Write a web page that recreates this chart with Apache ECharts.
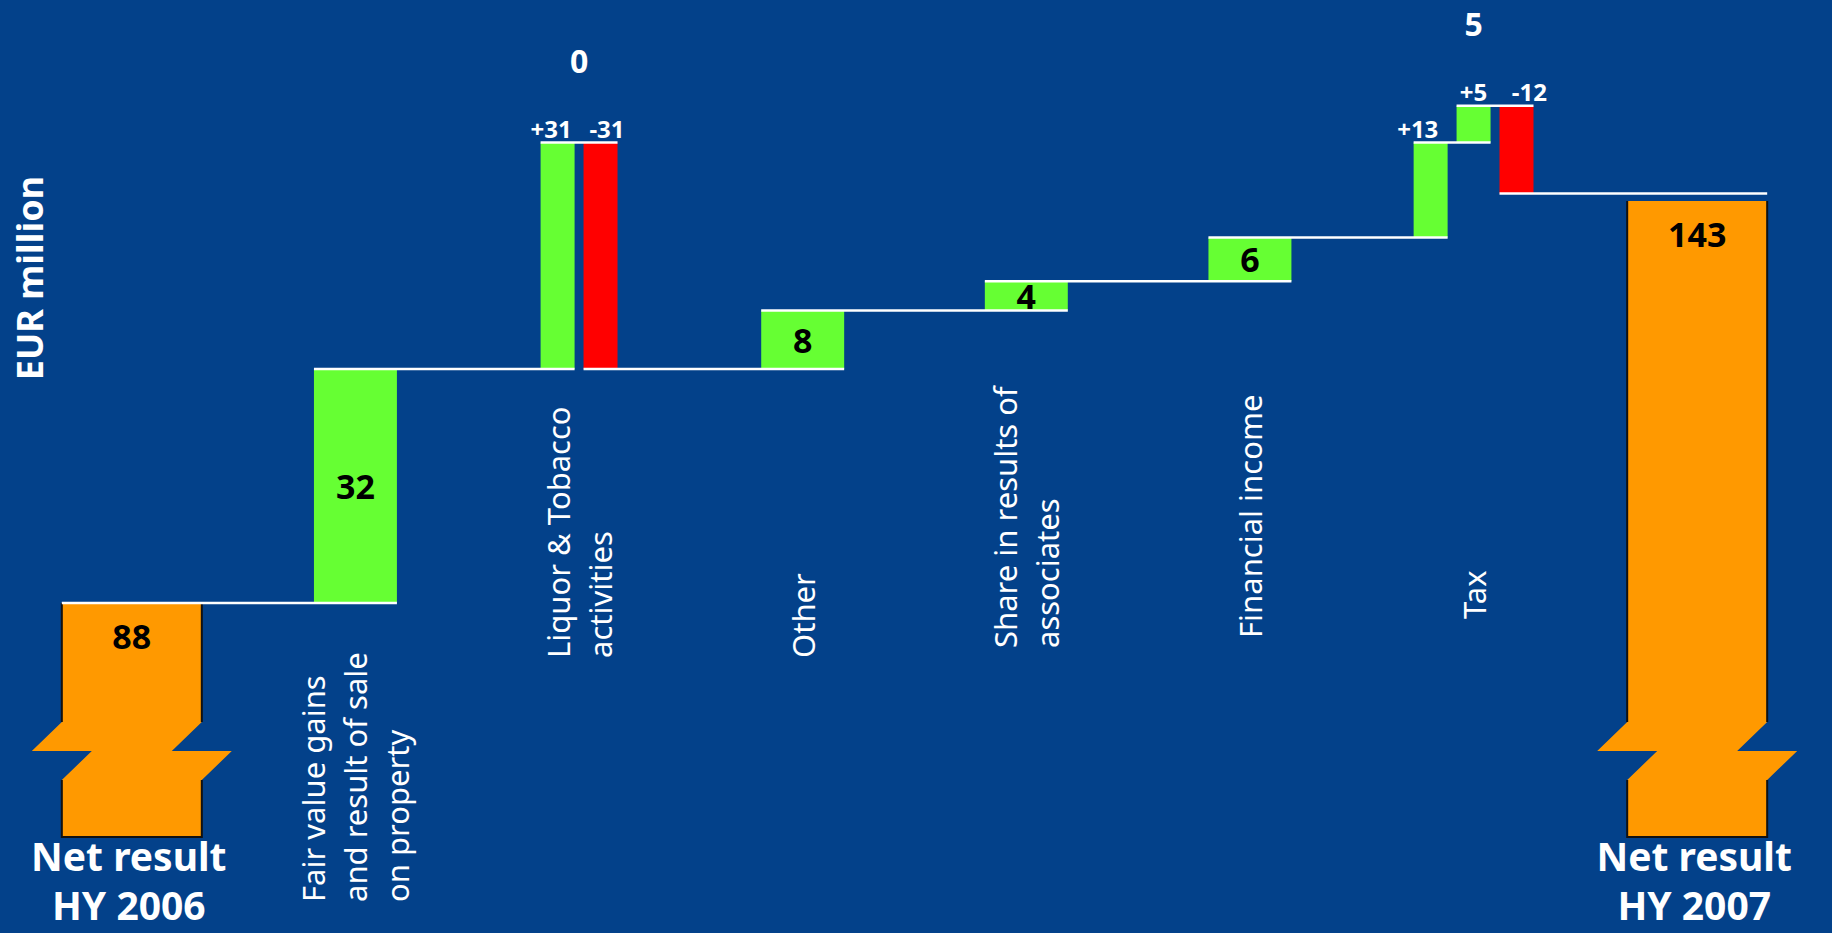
<!DOCTYPE html>
<html>
<head>
<meta charset="utf-8">
<title>Net result HY 2006 - HY 2007</title>
<script src="https://cdn.jsdelivr.net/npm/echarts@6/dist/echarts.min.js"></script>
<style>
    html, body { margin: 0; padding: 0; background: #03418a; }
    #main { width: 1832px; height: 933px; }
</style>
</head>
<body>
<div id="main"></div>
<script>
// 数据
var categories = ['Net result\nHY 2006', 'Fair value gains\nand result of sale\non property', 'Liquor & Tobacco\nactivities',
    'Other', 'Share in results of\nassociates', 'Financial income', 'Tax', 'Net result\nHY 2007'];
var startTotal = 88;
var endTotal = 143;
var stepCategory = [1, 2, 2, 3, 4, 5, 6, 6, 6];
var stepValues = [32, 31, -31, 8, 4, 6, 13, 5, -12];
var stepLabels = ['32', '+31', '-31', '8', '4', '6', '+13', '+5', '-12'];
var groupNetLabels = ['', '', '0', '', '', '', '5', ''];

// 样式 / 布局
var FONT = '"Noto Sans", "Open Sans", sans-serif';
var GREEN = '#66ff33', RED = '#ff0000', ORANGE = '#ff9900';
var yMin = 56, yMax = 162;
var catLabelBottom = [0, 902, 658, 658, 648, 638, 619, 0];

// 拆成一块一块的柱子
var pieces = [];
var slotCount = categories.map(function () { return 0; });
pieces.push({cat: 0, from: yMin, to: startTotal, label: String(startTotal), kind: 'total'});
var level = startTotal;
for (var i = 0; i < stepValues.length; i++) {
    var c = stepCategory[i];
    pieces.push({cat: c, from: level, to: level + stepValues[i], label: stepLabels[i], kind: stepValues[i] < 0 ? 'down' : 'up', slot: slotCount[c]});
    slotCount[c]++;
    level += stepValues[i];
}
pieces.push({cat: categories.length - 1, from: yMin, to: endTotal, label: String(endTotal), kind: 'total'});

function pieceRect(api, i) {
    var p = pieces[i];
    var band = api.size([1, 0])[0];
    var pt = api.coord([p.cat, p.to]);
    var yFrom = api.coord([p.cat, p.from])[1];
    var cx = pt[0], w, lx = pt[0];
    if (p.kind === 'total') {
        w = band * 0.626;
    } else if (slotCount[p.cat] === 1) {
        w = band * 0.371;
    } else {
        w = band * 0.152;
        var off = (p.slot - (slotCount[p.cat] - 1) / 2) * band * 0.192;
        cx += off;
        lx += off * 1.3;
    }
    return {x: cx - w / 2, w: w, cx: cx, lx: lx, top: Math.min(pt[1], yFrom), bottom: Math.max(pt[1], yFrom), yTo: pt[1]};
}

function renderPiece(params, api) {
    var i = api.value(3);
    var p = pieces[i];
    var r = pieceRect(api, i);
    var children = [];
    if (p.kind === 'total') {
        var L = r.x, R = r.x + r.w, T = r.top, B = r.bottom;
        var bc = B - 86, h = 29, o = 30;
        children.push({
            type: 'polygon', z2: 1,
            shape: {points: [[L, T], [L, bc - h], [L - o, bc], [L + o, bc], [L, bc + h], [L, B], [R, B], [R, bc + h], [R + o, bc], [R - o, bc], [R, bc - h], [R, T]]},
            style: {fill: ORANGE}
        });
        var edge = {stroke: '#111', lineWidth: 2, fill: null};
        children.push({type: 'polyline', z2: 2, shape: {points: [[L, T], [L, bc - h]]}, style: edge});
        children.push({type: 'polyline', z2: 2, shape: {points: [[L, bc + h], [L, B], [R, B], [R, bc + h]]}, style: edge});
        children.push({type: 'polyline', z2: 2, shape: {points: [[R, bc - h], [R, T]]}, style: edge});
        children.push({
            type: 'text', z2: 10, x: r.cx, y: T + 33,
            style: {text: p.label, fill: '#000', fontSize: 34, fontWeight: 'bold', fontFamily: FONT,
                align: 'center', verticalAlign: 'middle', textAlign: 'center', textVerticalAlign: 'middle'}
        });
    } else {
        children.push({
            type: 'rect', z2: 1,
            shape: {x: r.x, y: r.top, width: r.w, height: r.bottom - r.top},
            style: {fill: p.kind === 'down' ? RED : GREEN}
        });
        if (slotCount[p.cat] === 1) {
            children.push({
                type: 'text', z2: 10, x: r.cx, y: (r.top + r.bottom) / 2,
                style: {text: p.label, fill: '#000', fontSize: 34, fontWeight: 'bold', fontFamily: FONT,
                    align: 'center', verticalAlign: 'middle', textAlign: 'center', textVerticalAlign: 'middle'}
            });
        } else {
            children.push({
                type: 'text', z2: 10, x: r.lx, y: r.top - 2,
                style: {text: p.label, fill: '#fff', fontSize: 24, fontWeight: 'bold', fontFamily: FONT,
                    align: 'center', verticalAlign: 'bottom', textAlign: 'center', textVerticalAlign: 'bottom'}
            });
        }
    }
    // 连接线
    if (i < pieces.length - 1) {
        var n = pieceRect(api, i + 1);
        children.push({
            type: 'line', z2: 5,
            shape: {x1: r.x, y1: r.yTo, x2: n.x + n.w, y2: r.yTo},
            style: {stroke: '#fff', lineWidth: 2.5}
        });
    }
    return {type: 'group', children: children};
}

function renderCategory(params, api) {
    var c = api.value(0);
    var x = api.coord([c, yMin])[0];
    var children = [];
    if (c === 0 || c === categories.length - 1) {
        // 两行分开画，避免行高把文字挤出底边
        categories[c].split('\n').forEach(function (line, k) {
            children.push({
                type: 'text', x: x - 3, y: 855 + k * 49,
                style: {text: line, fill: '#fff', fontSize: 39, fontWeight: 'bold', fontFamily: FONT, lineHeight: 39,
                    align: 'center', verticalAlign: 'middle', textAlign: 'center', textVerticalAlign: 'middle'}
            });
        });
    } else {
        children.push({
            type: 'text', x: x, y: catLabelBottom[c], rotation: Math.PI / 2,
            style: {text: categories[c], fill: '#fff', fontSize: 31, fontFamily: FONT, lineHeight: 42,
                align: 'left', verticalAlign: 'middle', textAlign: 'left', textVerticalAlign: 'middle'}
        });
    }
    if (groupNetLabels[c] !== '') {
        var topLevel = -Infinity;
        pieces.forEach(function (p) {
            if (p.cat === c) topLevel = Math.max(topLevel, p.from, p.to);
        });
        children.push({
            type: 'text', x: x, y: api.coord([c, topLevel])[1] - 82,
            style: {text: groupNetLabels[c], fill: '#fff', fontSize: 32, fontWeight: 'bold', fontFamily: FONT,
                align: 'center', verticalAlign: 'middle', textAlign: 'center', textVerticalAlign: 'middle'}
        });
    }
    return {type: 'group', children: children};
}

var myChart = echarts.init(document.getElementById('main'), null, {renderer: 'svg'});
var option = {
    backgroundColor: '#03418a',
    animation: false,
    grid: {left: 20, right: 23, top: 62, bottom: 96},
    xAxis: {
        type: 'category',
        data: categories,
        axisLine: {show: false},
        axisTick: {show: false},
        axisLabel: {show: false}
    },
    yAxis: {
        type: 'value',
        min: yMin,
        max: yMax,
        show: false,
        splitLine: {show: false}
    },
    graphic: [{
        type: 'text', x: 29, y: 278, rotation: Math.PI / 2,
        style: {text: 'EUR million', fill: '#fff', fontSize: 36, fontWeight: 'bold', fontFamily: FONT,
            align: 'center', verticalAlign: 'middle', textAlign: 'center', textVerticalAlign: 'middle'}
    }],
    series: [{
        type: 'custom',
        name: 'waterfall',
        clip: false,
        renderItem: renderPiece,
        encode: {x: 0, y: [1, 2]},
        data: pieces.map(function (p, i) { return [p.cat, p.from, p.to, i]; })
    }, {
        type: 'custom',
        name: 'labels',
        clip: false,
        renderItem: renderCategory,
        encode: {x: 0, y: 1},
        data: categories.map(function (c, i) { return [i, yMin]; })
    }]
};
myChart.setOption(option);
</script>
</body>
</html>
